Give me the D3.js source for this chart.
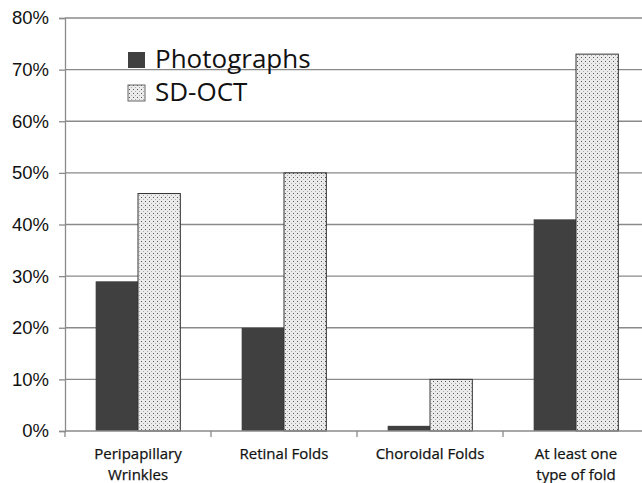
<!DOCTYPE html>
<html><head><meta charset="utf-8">
<script src="https://cdn.jsdelivr.net/npm/d3@7"></script>
<style>html,body{margin:0;padding:0;background:#fff}</style>
</head><body><svg id="c" width="642" height="483"></svg>
<script>
const categories = [["Peripapillary","Wrinkles"],["Retinal Folds"],["Choroidal Folds"],["At least one","type of fold"]];
const seriesNames = ["Photographs","SD-OCT"];
const photographs = [29, 20, 1, 41];
const sdoct = [46, 50, 10, 73];
const yTicks = [0,10,20,30,40,50,60,70,80];

(function(){
const svg = d3.select("#c");
const pl = 65, pr = 649, pt = 18, pb = 431;
const defs = svg.append("defs");
const pat = defs.append("pattern").attr("id","dots").attr("patternUnits","userSpaceOnUse")
  .attr("width",4).attr("height",4);
pat.append("rect").attr("width",4).attr("height",4).attr("fill","#ececec");
pat.append("rect").attr("x",1).attr("y",1).attr("width",1).attr("height",1).attr("fill","#555");
pat.append("rect").attr("x",3).attr("y",3).attr("width",1).attr("height",1).attr("fill","#aaa");

const x = d3.scaleBand().domain(d3.range(categories.length)).range([pl,pr]).paddingInner(0.42).paddingOuter(0.21);
const xs = d3.scaleBand().domain([0,1]).range([0,x.bandwidth()]);
const y = d3.scaleLinear().domain([0,80]).range([pb,pt]);

svg.append("g").selectAll("line").data(yTicks.filter(d=>d>0)).join("line")
  .attr("x1",pl).attr("x2",642).attr("y1",d=>y(d)).attr("y2",d=>y(d))
  .attr("stroke","#8a8a8a").attr("stroke-width",1.3);

const ya = svg.append("g").attr("transform",`translate(${pl},0)`)
  .call(d3.axisLeft(y).tickValues(yTicks).tickFormat(d=>d+"%").tickSize(6).tickPadding(10));
ya.select(".domain").attr("stroke","#8a8a8a").attr("stroke-width",1.3);
ya.selectAll(".tick line").attr("stroke","#8a8a8a").attr("stroke-width",1.3);
ya.selectAll("text").attr("font-family","Liberation Sans, Arial, sans-serif").attr("font-size",18.5).attr("fill","#111");

const data = categories.map((c,i)=>({i, vals:[photographs[i], sdoct[i]]}));
const g = svg.append("g");
data.forEach(d=>{
  d.vals.forEach((v,s)=>{
    g.append("rect").attr("x",x(d.i)+xs(s)).attr("width",xs.bandwidth())
      .attr("y",y(v)).attr("height",pb-y(v))
      .attr("fill", s===0 ? "#404040" : "url(#dots)")
      .attr("stroke", s===0 ? "none" : "#333").attr("stroke-width",1);
  });
});

const step = (pr-pl)/categories.length;
const xa = svg.append("g");
xa.append("line").attr("x1",pl).attr("x2",642).attr("y1",pb).attr("y2",pb).attr("stroke","#8a8a8a").attr("stroke-width",1.3);
xa.selectAll(".tk").data(d3.range(categories.length+1)).join("line").attr("class","tk")
  .attr("x1",d=>pl+d*step).attr("x2",d=>pl+d*step).attr("y1",pb).attr("y2",pb+6)
  .attr("stroke","#8a8a8a").attr("stroke-width",1.3);
categories.forEach((lines,i)=>{
  const cx = x(i)+x.bandwidth()/2;
  const t = xa.append("text").attr("text-anchor","middle").attr("font-family","Open Sans, sans-serif")
    .attr("font-size",15).attr("fill","#111").attr("stroke","#111").attr("stroke-width",0.25);
  lines.forEach((l,k)=>t.append("tspan").attr("x",cx).attr("y",459+k*21).text(l));
});

const lg = svg.append("g");
seriesNames.forEach((n,i)=>{
  const yy = 52 + i*33;
  lg.append("rect").attr("x",128).attr("y",yy).attr("width",17).attr("height",16)
    .attr("fill", i===0 ? "#404040" : "url(#dots)").attr("stroke", i===0?"none":"#666");
  lg.append("text").attr("x",155).attr("y",yy+16).attr("font-family","Open Sans, sans-serif")
    .attr("font-size",26).attr("fill","#111").text(n);
});
})();
</script></body></html>
